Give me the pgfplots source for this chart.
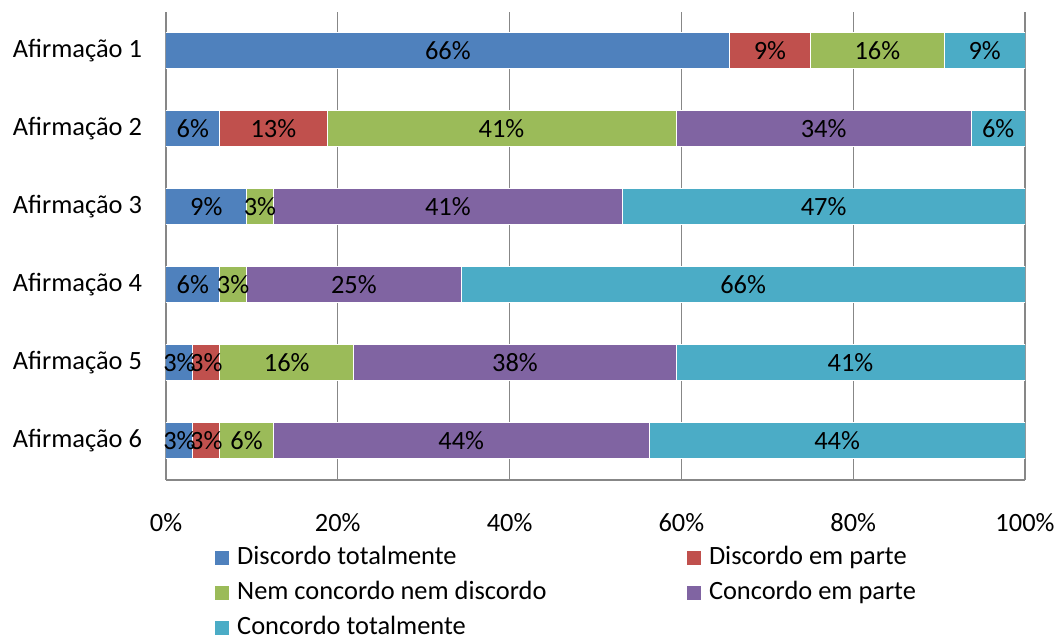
\documentclass[border=0pt]{standalone}
\usepackage{pgfplots}
\usepackage{pgfplotstable}
\pgfplotsset{compat=1.18}
\usepackage{fontspec}
\setmainfont{Carlito}
\definecolor{cDT}{HTML}{4F81BD}
\definecolor{cDP}{HTML}{C0504D}
\definecolor{cNN}{HTML}{9BBB59}
\definecolor{cCP}{HTML}{8064A2}
\definecolor{cCT}{HTML}{4BACC6}
\definecolor{gridc}{HTML}{878787}
% y: 6 = Afirmação 1 (top) ... 1 = Afirmação 6 (bottom); values in % of 32 answers
\pgfplotstableread{
y dt dp nn cp ct
6 65.625 9.375 15.625 0 9.375
5 6.25 12.5 40.625 34.375 6.25
4 9.375 0 3.125 40.625 46.875
3 6.25 0 3.125 25 65.625
2 3.125 3.125 15.625 37.5 40.625
1 3.125 3.125 6.25 43.75 43.75
}\data
\pgfplotsset{
  seg/.style={fill=#1, draw=white, line width=0.5pt},
}
\newcommand{\lcol}[1]{\makebox[224.5pt][l]{#1}}
\begin{document}
\begin{tikzpicture}
\begin{axis}[
  scale only axis,
  width=429.5pt, height=234pt,
  xbar stacked,
  bar width=18pt,
  xmin=0, xmax=100,
  ymin=0.5, ymax=6.5,
  ytick={1,2,3,4,5,6},
  yticklabels={Afirmação 6,Afirmação 5,Afirmação 4,Afirmação 3,Afirmação 2,Afirmação 1},
  xtick={0,20,40,60,80,100},
  xticklabels={0\%,20\%,40\%,60\%,80\%,100\%},
  major tick length=0pt,
  xmajorgrids,
  major grid style={gridc, line width=0.6pt},
  separate axis lines,
  axis x line*=bottom,
  axis y line*=left,
  axis line style={gridc, line width=0.6pt},
  tick label style={font=\fontsize{13.2}{15}\selectfont, black},
  xticklabel style={yshift=-13pt},
  yticklabel style={xshift=-8.5pt},
  point meta=explicit,
  nodes near coords={\pgfmathfloatifflags{\pgfplotspointmeta}{0}{}{\pgfmathprintnumber[assume math mode=true,fixed,precision=0]{\pgfplotspointmeta}\%}},
  every node near coord/.append style={font=\fontsize{13.2}{15}\selectfont, black, anchor=center, inner sep=0pt},
  legend columns=2,
  legend cell align=left,
  legend style={draw=none, fill=none, inner sep=0pt, at={(axis description cs:0.0559,-0.141)}, anchor=north west,
     font=\fontsize{13.2}{15}\selectfont,
     nodes={inner sep=0pt, text height=9pt, text depth=2.5pt, align=left},
     column sep=0pt, row sep=6pt},
  legend image code/.code={\fill (0pt,-3.7pt) rectangle (7.4pt,3.7pt);},
]
\addplot[seg=cDT] table[x=dt, y=y, meta=dt]{\data};
\addlegendentry{\hspace{3.5pt}\lcol{Discordo totalmente}}
\addplot[seg=cDP] table[x=dp, y=y, meta=dp]{\data};
\addlegendentry{\hspace{3.5pt}Discordo em parte}
\addplot[seg=cNN] table[x=nn, y=y, meta=nn]{\data};
\addlegendentry{\hspace{3.5pt}\lcol{Nem concordo nem discordo}}
\addplot[seg=cCP] table[x=cp, y=y, meta=cp]{\data};
\addlegendentry{\hspace{3.5pt}Concordo em parte}
\addplot[seg=cCT] table[x=ct, y=y, meta=ct]{\data};
\addlegendentry{\hspace{3.5pt}\lcol{Concordo totalmente}}
\end{axis}
\pgfresetboundingbox
\path (current axis.south west) +(-83pt,-77.5pt) rectangle +(445.5pt,240pt);
\end{tikzpicture}
\end{document}
